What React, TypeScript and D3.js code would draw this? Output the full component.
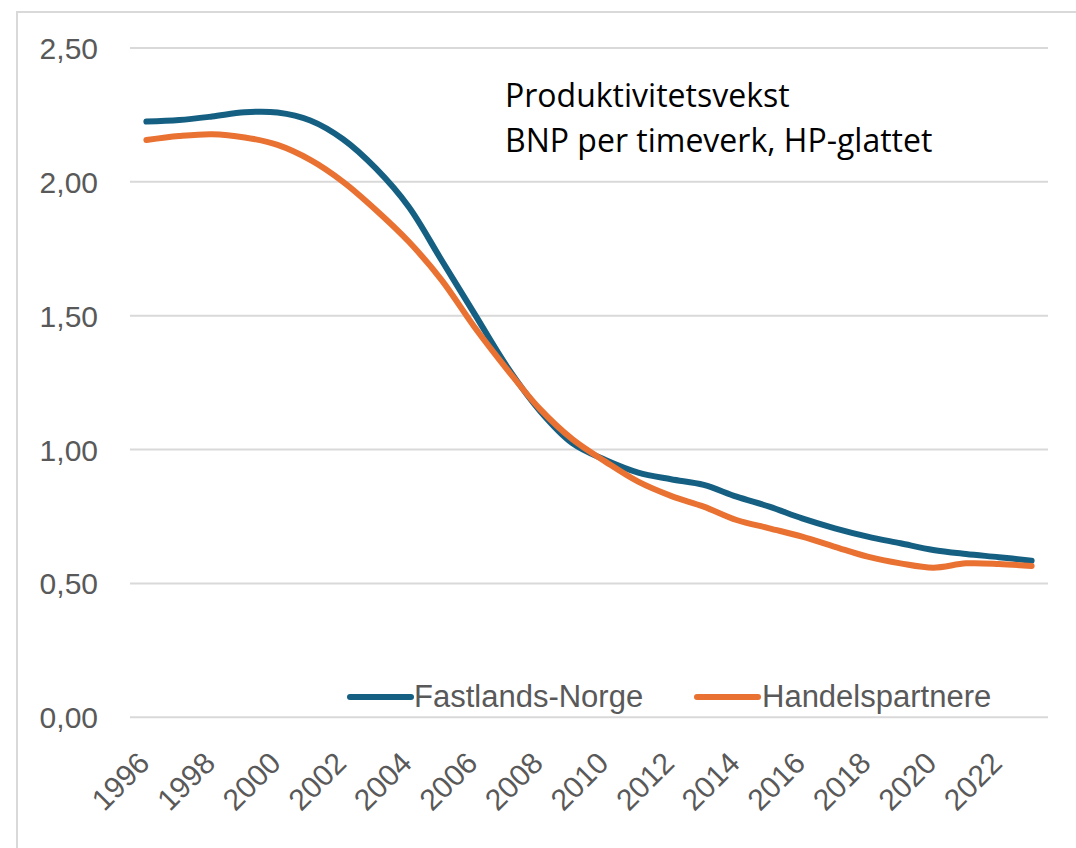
import React from "react";
import * as d3 from "d3";

const years: number[] = [
  1996, 1997, 1998, 1999, 2000, 2001, 2002, 2003, 2004, 2005, 2006, 2007, 2008, 2009,
  2010, 2011, 2012, 2013, 2014, 2015, 2016, 2017, 2018, 2019, 2020, 2021, 2022, 2023,
];
const fastlandsNorge: number[] = [
  2.225, 2.231, 2.244, 2.26, 2.259, 2.229, 2.159, 2.05, 1.907, 1.708, 1.509, 1.31, 1.145, 1.023,
  0.961, 0.914, 0.889, 0.868, 0.824, 0.787, 0.743, 0.706, 0.675, 0.65, 0.625, 0.61, 0.598, 0.585,
];
const handelspartnere: number[] = [
  2.156, 2.171, 2.178, 2.166, 2.138, 2.082, 2.0, 1.895, 1.777, 1.634, 1.459, 1.3, 1.152, 1.038,
  0.955, 0.88, 0.827, 0.787, 0.737, 0.706, 0.675, 0.637, 0.6, 0.575, 0.559, 0.575, 0.573, 0.565,
];
const yTicks: number[] = [0, 0.5, 1, 1.5, 2, 2.5];
const xTickYears: number[] = [
  1996, 1998, 2000, 2002, 2004, 2006, 2008, 2010, 2012, 2014, 2016, 2018, 2020, 2022,
];
const titleLines: string[] = ["Produktivitetsvekst", "BNP per timeverk, HP-glattet"];
const seriesNames: string[] = ["Fastlands-Norge", "Handelspartnere"];
const seriesColors: string[] = ["#156082", "#E97132"];

export default function App() {
  const W = 1076;
  const H = 848;
  const x = d3.scalePoint<number>().domain(years).range([130, 1048]).padding(0.5);
  const y = d3.scaleLinear().domain([0, 2.5]).range([717.3, 48]);
  const line = d3
    .line<number>()
    .x((_, i) => x(years[i]) as number)
    .y((d) => y(d))
    .curve(d3.curveCatmullRom.alpha(0.5));
  const series = [fastlandsNorge, handelspartnere];
  const fmt = (v: number) => v.toFixed(2).replace(".", ",");
  const tickFont = "'Liberation Sans', Arial, sans-serif";
  const legend = [
    { x1: 350, x2: 411, tx: 414 },
    { x1: 697, x2: 758, tx: 762 },
  ];
  return (
    <svg
      width={W}
      height={H}
      viewBox={`0 0 ${W} ${H}`}
      style={{ position: "absolute", left: 0, top: 0, background: "#fff" }}
    >
      <rect x={0} y={0} width={W} height={H} fill="#fff" />
      <rect x={17} y={12} width={W + 20} height={H + 20} fill="none" stroke="#d9d9d9" strokeWidth={2} />
      {yTicks.map((t) => (
        <g key={t}>
          <line x1={130} x2={1048} y1={y(t)} y2={y(t)} stroke="#d9d9d9" strokeWidth={2} />
          <text
            x={98}
            y={y(t) + 11}
            textAnchor="end"
            fontFamily={tickFont}
            fontSize={30}
            fill="#595959"
          >
            {fmt(t)}
          </text>
        </g>
      ))}
      {xTickYears.map((yr) => (
        <text
          key={yr}
          transform={`translate(${(x(yr) as number) + 5},765) rotate(-45)`}
          textAnchor="end"
          fontFamily={tickFont}
          fontSize={30}
          fill="#595959"
        >
          {yr}
        </text>
      ))}
      {series.map((s, i) => (
        <path
          key={i}
          d={line(s) || ""}
          fill="none"
          stroke={seriesColors[i]}
          strokeWidth={6}
          strokeLinecap="round"
          strokeLinejoin="round"
        />
      ))}
      {titleLines.map((t, i) => (
        <text
          key={i}
          x={505}
          y={107 + i * 45}
          fontFamily="'Open Sans', sans-serif"
          fontSize={32}
          fill="#000"
        >
          {t}
        </text>
      ))}
      {legend.map((l, i) => (
        <g key={i}>
          <line
            x1={l.x1}
            x2={l.x2}
            y1={697}
            y2={697}
            stroke={seriesColors[i]}
            strokeWidth={6}
            strokeLinecap="round"
          />
          <text x={l.tx} y={707} fontFamily={tickFont} fontSize={31} fill="#595959">
            {seriesNames[i]}
          </text>
        </g>
      ))}
    </svg>
  );
}
